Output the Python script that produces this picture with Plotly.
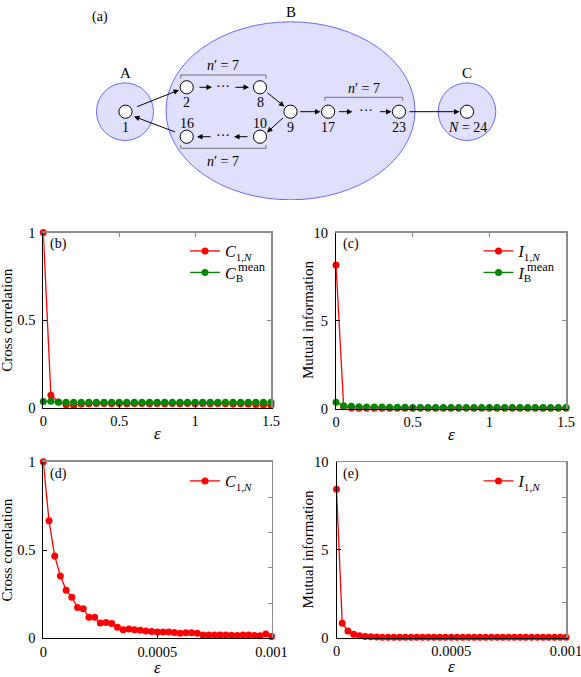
import plotly.graph_objects as go

W, H = 581, 677
FONT = "Liberation Serif, Times New Roman, serif"
RED = "rgb(255,0,0)"
GREEN = "rgb(0,135,0)"
GRAY = "rgb(140,140,140)"

# ---------------- data ----------------
eps_wide = [0.0, 0.05, 0.1, 0.15, 0.2, 0.25, 0.3, 0.35, 0.4, 0.45, 0.5, 0.55, 0.6, 0.65, 0.7,
            0.75, 0.8, 0.85, 0.9, 0.95, 1.0, 1.05, 1.1, 1.15, 1.2, 1.25, 1.3, 1.35, 1.4, 1.45, 1.5]
C1N_wide = [1.0, 0.071, 0.033, 0.017, 0.015, 0.022, 0.023, 0.024, 0.024, 0.023, 0.024, 0.023,
            0.024, 0.024, 0.023, 0.024, 0.023, 0.024, 0.023, 0.024, 0.023, 0.024, 0.023, 0.024,
            0.023, 0.022, 0.023, 0.021, 0.019, 0.017, 0.016]
CB_wide = [0.036, 0.037, 0.032, 0.031, 0.031, 0.031, 0.031, 0.031, 0.031, 0.031, 0.031, 0.031,
           0.031, 0.031, 0.031, 0.031, 0.031, 0.031, 0.031, 0.031, 0.031, 0.031, 0.031, 0.031,
           0.031, 0.031, 0.031, 0.031, 0.031, 0.032, 0.032]
I1N_wide = [8.15, 0.10, 0.03, 0.02, 0.02, 0.02, 0.02, 0.02, 0.02, 0.02, 0.02, 0.02, 0.02, 0.02,
            0.02, 0.02, 0.02, 0.02, 0.02, 0.02, 0.02, 0.02, 0.02, 0.02, 0.02, 0.02, 0.02, 0.02,
            0.02, 0.02, 0.02]
IB_wide = [0.36, 0.16, 0.13, 0.10, 0.09, 0.08, 0.08, 0.07, 0.07, 0.07, 0.06, 0.06, 0.06, 0.06,
           0.06, 0.06, 0.05, 0.05, 0.05, 0.05, 0.05, 0.05, 0.05, 0.05, 0.05, 0.05, 0.05, 0.05,
           0.05, 0.05, 0.05]

eps_narrow = [0.0, 0.000025, 0.00005, 0.000075, 0.0001, 0.000125, 0.00015, 0.000175, 0.0002,
              0.000225, 0.00025, 0.000275, 0.0003, 0.000325, 0.00035, 0.000375, 0.0004,
              0.000425, 0.00045, 0.000475, 0.0005, 0.000525, 0.00055, 0.000575, 0.0006,
              0.000625, 0.00065, 0.000675, 0.0007, 0.000725, 0.00075, 0.000775, 0.0008,
              0.000825, 0.00085, 0.000875, 0.0009, 0.000925, 0.00095, 0.000975, 0.001]
C1N_narrow = [1.0, 0.666, 0.466, 0.353, 0.272, 0.232, 0.175, 0.168, 0.119, 0.119, 0.087, 0.090,
              0.084, 0.063, 0.049, 0.052, 0.049, 0.045, 0.042, 0.038, 0.036, 0.036, 0.035,
              0.033, 0.028, 0.032, 0.031, 0.029, 0.018, 0.018, 0.019, 0.019, 0.018, 0.017,
              0.016, 0.019, 0.019, 0.016, 0.014, 0.025, 0.010]
I1N_narrow = [8.46, 0.82, 0.37, 0.18, 0.10, 0.06, 0.04, 0.03, 0.02, 0.02, 0.02, 0.02, 0.02,
              0.02, 0.02, 0.02, 0.02, 0.02, 0.02, 0.02, 0.02, 0.02, 0.02, 0.02, 0.02, 0.02,
              0.02, 0.02, 0.02, 0.02, 0.02, 0.02, 0.02, 0.02, 0.02, 0.02, 0.02, 0.02, 0.02,
              0.02, 0.02]

wide_ticks = [0, 0.5, 1, 1.5]
wide_ticktext = ["0", "0.5", "1", "1.5"]
narrow_ticks = [0, 0.0005, 0.001]
narrow_ticktext = ["0", "0.0005", "0.001"]
corr_ticks = [0, 0.5, 1]
corr_ticktext = ["0", "0.5", "1"]
mi_ticks = [0, 5, 10]
mi_ticktext = ["0", "5", "10"]

# diagram (schematic) description
nodes = [  # (x, y) in diagram pixels
    (125.5, 111.7), (186.7, 87.3), (260.0, 87.3), (290.5, 111.7), (260.0, 136.7),
    (186.7, 136.7), (328.1, 111.7), (399.0, 111.7), (467.0, 111.7)]
node_labels = [("1", 125.5, 127.0), ("2", 186.7, 102.7), ("8", 260.0, 102.7),
               ("9", 290.5, 127.3), ("10", 260.0, 123.0), ("16", 186.7, 123.0),
               ("17", 328.1, 127.3), ("23", 399.0, 127.3), ("<i>N</i> = 24", 467.0, 127.3)]
arrows = [  # (x_from, y_from, x_to, y_to)
    (135.5, 107.3, 179.0, 90.0), (176.5, 132.5, 134.0, 116.5),
    (198.0, 87.3, 212.0, 87.3), (234.0, 87.3, 249.0, 87.3),
    (266.0, 91.7, 284.5, 106.5), (284.5, 116.5, 267.0, 132.5),
    (249.0, 136.7, 234.0, 136.7), (212.0, 136.7, 197.0, 136.7),
    (298.5, 111.7, 320.5, 111.7), (337.5, 111.7, 352.5, 111.7),
    (378.5, 111.7, 391.5, 111.7), (408.0, 111.7, 459.5, 111.7)]
dots = [(223.0, 87.3), (223.0, 136.7), (365.5, 111.7)]
brackets = [  # (x0, x1, y_line, tick direction)
    (180.7, 266.0, 75.0, 1), (180.7, 266.0, 148.3, -1), (324.8, 402.7, 97.3, 1)]
bracket_labels = [(223.3, 65.5), (223.3, 161.0), (363.8, 88.5)]
regions = [  # (label, cx, cy, rx, ry, label_y)
    ("A", 125.0, 111.7, 28.5, 28.8, 73.3), ("B", 290.5, 110.8, 124.5, 89.0, 11.7),
    ("C", 467.0, 111.7, 28.8, 28.8, 73.3)]


def px(x):
    return x / W


def py(y):
    return 1 - y / H


# panel domains in pixels: (left, right, top, bottom)
panels = {
    1: (43.3, 271.0, 232.5, 407.8),
    2: (336.0, 566.0, 232.5, 408.5),
    3: (43.3, 271.5, 461.8, 638.3),
    4: (336.5, 566.0, 462.3, 637.5),
}

fig = go.Figure()

line_w = 1.3
msize = 7


def add_series(x, y, color, name, idx, legend):
    sfx = "" if idx == 1 else str(idx)
    fig.add_trace(go.Scatter(
        x=x, y=y, mode="lines+markers", name=name,
        line=dict(color=color, width=line_w),
        marker=dict(color=color, size=msize),
        xaxis="x" + sfx, yaxis="y" + sfx, cliponaxis=False,
        legend=legend, showlegend=True))


C1N_name = "<i>C</i><sub>1,<i>N</i></sub>"
CB_name = "<i>C</i><sub>B</sub>"
I1N_name = "<i>I</i><sub>1,<i>N</i></sub>"
IB_name = "<i>I</i><sub>B</sub>"

add_series(eps_wide, C1N_wide, RED, C1N_name, 1, "legend")
add_series(eps_wide, CB_wide, GREEN, CB_name, 1, "legend5")
add_series(eps_wide, I1N_wide, RED, I1N_name, 2, "legend2")
add_series(eps_wide, IB_wide, GREEN, IB_name, 2, "legend6")
add_series(eps_narrow, C1N_narrow, RED, C1N_name, 3, "legend3")
add_series(eps_narrow, I1N_narrow, RED, I1N_name, 4, "legend4")

# invisible traces for mirror (top/right) axes and diagram axes
for k in range(5, 10):
    fig.add_trace(go.Scatter(x=[0], y=[0], mode="markers", marker=dict(opacity=0),
                             xaxis="x%d" % k, yaxis="y%d" % k, showlegend=False,
                             hoverinfo="skip"))

tickfont = dict(family=FONT, size=14.5, color="black")
layout = dict(
    template="none",
    width=W, height=H, autosize=False,
    margin=dict(l=0, r=0, t=0, b=0, pad=0, autoexpand=False),
    paper_bgcolor="white", plot_bgcolor="rgba(0,0,0,0)",
    font=dict(family=FONT, size=14, color="black"),
    showlegend=True,
)

cfg = {
    1: dict(xr=[0, 1.5], yr=[0, 1], xt=(wide_ticks, wide_ticktext), yt=(corr_ticks, corr_ticktext),
            top=[0.5, 1], right=[0.5]),
    2: dict(xr=[0, 1.5], yr=[0, 10], xt=(wide_ticks, wide_ticktext), yt=(mi_ticks, mi_ticktext),
            top=[0.5, 1], right=[5]),
    3: dict(xr=[0, 0.001], yr=[0, 1], xt=(narrow_ticks, narrow_ticktext),
            yt=(corr_ticks, corr_ticktext), top=[], right=[0.2, 0.4, 0.6, 0.8]),
    4: dict(xr=[0, 0.001], yr=[0, 10], xt=(narrow_ticks, narrow_ticktext),
            yt=(mi_ticks, mi_ticktext), top=[], right=[2, 4, 6, 8]),
}

for i, c in cfg.items():
    l, r, t, b = panels[i]
    sfx = "" if i == 1 else str(i)
    xd = [px(l), px(r)]
    yd = [py(b), py(t)]
    layout["xaxis" + sfx] = dict(
        domain=xd, range=c["xr"], anchor="y" + sfx, showgrid=False, zeroline=False,
        showline=True, linecolor="black", linewidth=1, ticks="inside", ticklen=4,
        tickcolor="black", tickvals=c["xt"][0], ticktext=c["xt"][1], tickfont=tickfont,
        ticklabeloverflow="allow", automargin=False, fixedrange=True)
    layout["yaxis" + sfx] = dict(
        domain=yd, range=c["yr"], anchor="x" + sfx, showgrid=False, zeroline=False,
        showline=True, linecolor="black", linewidth=1, ticks="inside", ticklen=4,
        tickcolor="black", tickvals=c["yt"][0], ticktext=c["yt"][1], tickfont=tickfont,
        ticklabelstandoff=4, ticklabeloverflow="allow", automargin=False, fixedrange=True)
    k = i + 4
    layout["xaxis%d" % k] = dict(
        overlaying="x" + sfx, side="top", anchor="y" + sfx, range=c["xr"], showgrid=False,
        zeroline=False, showline=True, linecolor=GRAY, linewidth=1.5, ticks="inside",
        ticklen=4, tickcolor=GRAY, tickvals=c["top"], showticklabels=False,
        automargin=False, fixedrange=True)
    layout["yaxis%d" % k] = dict(
        overlaying="y" + sfx, side="right", anchor="x" + sfx, range=c["yr"], showgrid=False,
        zeroline=False, showline=True, linecolor=GRAY, linewidth=1.5, ticks="inside",
        ticklen=4, tickcolor=GRAY, tickvals=c["right"], showticklabels=False,
        automargin=False, fixedrange=True)

# diagram axes (pixel-like coordinates)
layout["xaxis9"] = dict(domain=[0, 1], range=[0, W], anchor="y9", visible=False,
                        automargin=False, fixedrange=True)
layout["yaxis9"] = dict(domain=[py(200), 1], range=[200, 0], anchor="x9", visible=False,
                        automargin=False, fixedrange=True)

legfont = dict(family=FONT, size=16, color="black")
leg_common = dict(font=legfont, bgcolor="rgba(0,0,0,0)", borderwidth=0, xanchor="left",
                  yanchor="top", tracegroupgap=0, itemclick=False, itemdoubleclick=False)
LEG_DY = 16
layout["legend"] = dict(x=px(185), y=py(250 - LEG_DY), **leg_common)
layout["legend5"] = dict(x=px(185), y=py(271.5 - LEG_DY), **leg_common)
layout["legend2"] = dict(x=px(478.5), y=py(250 - LEG_DY), **leg_common)
layout["legend6"] = dict(x=px(478.5), y=py(271.5 - LEG_DY), **leg_common)
layout["legend3"] = dict(x=px(185), y=py(480 - LEG_DY), **leg_common)
layout["legend4"] = dict(x=px(478.5), y=py(480 - LEG_DY), **leg_common)

fig.update_layout(**layout)

# ---------------- annotations ----------------
ann = []


def text(x, y, s, size=14, xref="paper", yref="paper", **kw):
    d = dict(x=x, y=y, text=s, showarrow=False, xref=xref, yref=yref,
             font=dict(family=FONT, size=size, color="black"),
             xanchor="center", yanchor="middle")
    d.update(kw)
    ann.append(d)


# panel labels
text(px(58), py(244), "(b)")
text(px(351), py(244), "(c)")
text(px(58), py(474), "(d)")
text(px(351), py(474), "(e)")

# superscripts "mean" for legend entries
text(px(236), py(267), "mean", size=12.5, xanchor="left")
text(px(525), py(267), "mean", size=12.5, xanchor="left")

# axis titles
for i, ttl, xc, dy in [(1, "Cross correlation", 7.5, 26), (2, "Mutual information", 307.5, 26),
                       (3, "Cross correlation", 7.5, 29), (4, "Mutual information", 307.5, 29)]:
    l, r, t, b = panels[i]
    text(px(xc), py((t + b) / 2), ttl, size=15, textangle=-90)
    text(px((l + r) / 2), py(b + dy), "<i>ε</i>", size=17)

# diagram
text(100, 16.7, "(a)", xref="x9", yref="y9")
for lab, cx, cy, rx, ry, ly in regions:
    text(cx, ly, lab, size=15, xref="x9", yref="y9")
for lab, x, y in node_labels:
    text(x, y, lab, size=14, xref="x9", yref="y9")
for x, y in bracket_labels:
    text(x, y, "<i>n</i>′ = 7", size=14, xref="x9", yref="y9")
for x, y in dots:
    text(x, y - 1, "···", size=14, xref="x9", yref="y9")
for x0, y0, x1, y1 in arrows:
    ann.append(dict(x=x1, y=y1, ax=x0, ay=y0, xref="x9", yref="y9", axref="x9", ayref="y9",
                    text="", showarrow=True, arrowhead=2, arrowsize=1.1, arrowwidth=1,
                    arrowcolor="black", standoff=0, startstandoff=0))

fig.update_layout(annotations=ann)

# shapes for diagram
shapes = []
for lab, cx, cy, rx, ry, ly in regions:
    shapes.append(dict(type="circle", xref="x9", yref="y9", x0=cx - rx, x1=cx + rx,
                       y0=cy - ry, y1=cy + ry, fillcolor="rgb(224,224,252)",
                       line=dict(color="rgb(105,105,245)", width=1), layer="above"))
for x0, x1, yl, d in brackets:
    shapes.append(dict(type="path", xref="x9", yref="y9",
                       path="M %f,%f L %f,%f L %f,%f L %f,%f" % (x0, yl + 3.5 * d, x0, yl, x1, yl,
                                                                  x1, yl + 3.5 * d),
                       line=dict(color="rgb(110,110,110)", width=1)))
for x, y in nodes:
    shapes.append(dict(type="circle", xref="x9", yref="y9", x0=x - 6.6, x1=x + 6.6,
                       y0=y - 6.6, y1=y + 6.6, fillcolor="white",
                       line=dict(color="black", width=1)))
fig.update_layout(shapes=shapes)

fig.write_html("out.html", config={"displayModeBar": False, "staticPlot": True},
               post_script="document.body.style.margin='0';")
